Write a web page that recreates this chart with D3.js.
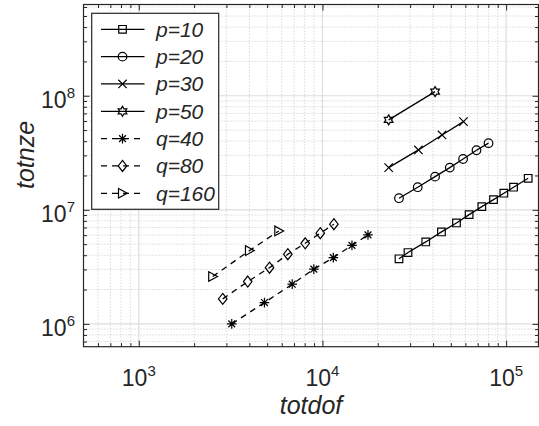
<!DOCTYPE html>
<html>
<head>
<meta charset="utf-8">
<script src="https://cdn.jsdelivr.net/npm/d3@7"></script>
<style>
  body { margin: 0; background: #fff; }
  text { font-family: "Liberation Sans", Arial, Helvetica, sans-serif; fill: #262626; }
</style>
</head>
<body>
<script>
const width = 539;
const height = 426;

// values
const p10x = [26100, 29220, 36490, 44440, 53650, 62850, 73720, 85360, 97160, 109700, 131800];
const p10y = [3.72e6, 4.22e6, 5.23e6, 6.40e6, 7.67e6, 9.08e6, 1.067e7, 1.229e7, 1.398e7, 1.578e7, 1.89e7];
const p20x = [26100, 33000, 41020, 49330, 58280, 68950, 80170];
const p20y = [1.264e7, 1.578e7, 1.954e7, 2.344e7, 2.79e7, 3.33e7, 3.84e7];
const p30x = [22930, 33300, 44770, 58570];
const p30y = [2.344e7, 3.35e7, 4.53e7, 5.93e7];
const p50x = [22930, 41020];
const p50y = [6.14e7, 1.087e8];
const q40x = [3207, 4831, 6844, 8975, 11460, 14470, 17690];
const q40y = [1.0e6, 1.537e6, 2.23e6, 3.02e6, 3.81e6, 4.88e6, 6.03e6];
const q80x = [2864, 3918, 5148, 6477, 8054, 9727, 11540];
const q80y = [1.656e6, 2.35e6, 3.11e6, 4.08e6, 5.09e6, 6.24e6, 7.48e6];
const q160x = [2526, 4004, 5785];
const q160y = [2.60e6, 4.39e6, 6.53e6];

const seriesNames = ["p=10", "p=20", "p=30", "p=50", "q=40", "q=80", "q=160"];
const xTicks = [1e3, 1e4, 1e5];
const yTicks = [1e6, 1e7, 1e8];

const series = [
  { name: seriesNames[0], xs: p10x, ys: p10y, marker: "square", dashed: false },
  { name: seriesNames[1], xs: p20x, ys: p20y, marker: "circle", dashed: false },
  { name: seriesNames[2], xs: p30x, ys: p30y, marker: "x", dashed: false },
  { name: seriesNames[3], xs: p50x, ys: p50y, marker: "hexagram", dashed: false },
  { name: seriesNames[4], xs: q40x, ys: q40y, marker: "asterisk", dashed: true },
  { name: seriesNames[5], xs: q80x, ys: q80y, marker: "diamond", dashed: true },
  { name: seriesNames[6], xs: q160x, ys: q160y, marker: "triangle", dashed: true }
];

const margin = { left: 83.5, top: 4.5, right: 0.5, bottom: 79.3 };
const x = d3.scaleLog().domain([500, 1.5e5]).range([margin.left, width - margin.right]);
const y = d3.scaleLog().domain([Math.pow(10, 5.8), Math.pow(10, 8.8)]).range([height - margin.bottom, margin.top]);

const minorOf = (scale) => {
  const [a, b] = scale.domain();
  const out = [];
  for (let e = Math.floor(Math.log10(a)); e <= Math.ceil(Math.log10(b)); e++) {
    for (let k = 2; k <= 9; k++) {
      const v = k * Math.pow(10, e);
      if (v > a && v < b) out.push(v);
    }
  }
  return out;
};
const xMinor = minorOf(x);
const yMinor = minorOf(y);

const svg = d3.select("body").append("svg")
  .attr("width", width)
  .attr("height", height);

const x0 = x.range()[0], x1 = x.range()[1];
const y0 = y.range()[0], y1 = y.range()[1];

// grid
const grid = svg.append("g");
grid.selectAll(".xm").data(xMinor).join("line")
  .attr("x1", d => x(d)).attr("x2", d => x(d)).attr("y1", y0).attr("y2", y1)
  .attr("stroke", "#c8c8c8").attr("stroke-dasharray", "1,2");
grid.selectAll(".ym").data(yMinor).join("line")
  .attr("x1", x0).attr("x2", x1).attr("y1", d => y(d)).attr("y2", d => y(d))
  .attr("stroke", "#c8c8c8").attr("stroke-dasharray", "1,2");
grid.selectAll(".xM").data(xTicks).join("line")
  .attr("x1", d => x(d)).attr("x2", d => x(d)).attr("y1", y0).attr("y2", y1)
  .attr("stroke", "#dedede").attr("stroke-width", 1.2);
grid.selectAll(".yM").data(yTicks).join("line")
  .attr("x1", x0).attr("x2", x1).attr("y1", d => y(d)).attr("y2", d => y(d))
  .attr("stroke", "#dedede").attr("stroke-width", 1.2);

// markers
const markerPath = (kind) => {
  switch (kind) {
    case "square": return "M-3.8,-3.8H3.8V3.8H-3.8Z";
    case "x": return "M-4.2,-4.2L4.2,4.2M-4.2,4.2L4.2,-4.2";
    case "asterisk": return "M-4.8,0H4.8M0,-4.8V4.8M-3.4,-3.4L3.4,3.4M-3.4,3.4L3.4,-3.4";
    case "diamond": return "M0,-5.5L4.3,0L0,5.5L-4.3,0Z";
    case "triangle": return "M-4,-4.8L4.8,0L-4,4.8Z";
    case "hexagram": {
      const pts = [];
      for (let i = 0; i < 12; i++) {
        const r = i % 2 === 0 ? 5 : 5 / Math.sqrt(3);
        const a = -Math.PI / 2 + i * Math.PI / 6;
        pts.push([r * Math.cos(a), r * Math.sin(a)]);
      }
      return "M" + pts.map(p => p.join(",")).join("L") + "Z";
    }
  }
  return "";
};
const drawMarker = (g, kind, cx, cy) => {
  if (kind === "circle") {
    g.append("circle").attr("cx", cx).attr("cy", cy).attr("r", 4.3)
      .attr("fill", "none").attr("stroke", "#000").attr("stroke-width", 1.2);
  } else {
    g.append("path").attr("d", markerPath(kind))
      .attr("transform", `translate(${cx},${cy})`)
      .attr("fill", "none").attr("stroke", "#000").attr("stroke-width", 1.2);
  }
};

const line = d3.line().x(d => x(d[0])).y(d => y(d[1]));
const plot = svg.append("g");
series.forEach(s => {
  const pts = s.xs.map((v, i) => [v, s.ys[i]]);
  plot.append("path").datum(pts).attr("d", line)
    .attr("fill", "none").attr("stroke", "#000").attr("stroke-width", 1.3)
    .attr("stroke-dasharray", s.dashed ? "6,5" : null);
  pts.forEach(p => drawMarker(plot, s.marker, x(p[0]), y(p[1])));
});

// axes (ticks inward on all sides)
const axisColor = "#262626";
const ax = svg.append("g");
const addAxis = (axis, tx, ty, vals, size) => {
  const g = ax.append("g").attr("transform", `translate(${tx},${ty})`)
    .call(axis.tickValues(vals).tickSize(size).tickSizeOuter(0).tickFormat(""));
  g.select(".domain").remove();
  g.selectAll("line").attr("stroke", axisColor);
  return g;
};
addAxis(d3.axisBottom(x), 0, y0, xMinor, -3.5);
addAxis(d3.axisBottom(x), 0, y0, xTicks, -6);
addAxis(d3.axisTop(x), 0, y1, xMinor, -3.5);
addAxis(d3.axisTop(x), 0, y1, xTicks, -6);
addAxis(d3.axisLeft(y), x0, 0, yMinor, -3.5);
addAxis(d3.axisLeft(y), x0, 0, yTicks, -6);
addAxis(d3.axisRight(y), x1, 0, yMinor, -3.5);
addAxis(d3.axisRight(y), x1, 0, yTicks, -6);
ax.append("rect").attr("x", x0).attr("y", y1).attr("width", x1 - x0).attr("height", y0 - y1)
  .attr("fill", "none").attr("stroke", axisColor).attr("stroke-width", 1.2);

// tick labels
const sup = (t, e) => {
  t.append("tspan").text("10");
  t.append("tspan").attr("font-size", 15).attr("dy", -10).text(e);
};
xTicks.forEach(v => {
  const t = svg.append("text").attr("x", x(v)).attr("y", 386)
    .attr("text-anchor", "middle").attr("font-size", 23);
  sup(t, Math.round(Math.log10(v)));
});
yTicks.forEach(v => {
  const t = svg.append("text").attr("x", 75).attr("y", y(v) + 12.5)
    .attr("text-anchor", "end").attr("font-size", 23);
  sup(t, Math.round(Math.log10(v)));
});

// axis labels
svg.append("text").attr("x", (x0 + x1) / 2).attr("y", 414)
  .attr("text-anchor", "middle").attr("font-size", 25).attr("font-style", "italic")
  .text("totdof");
svg.append("text").attr("transform", "translate(34,155) rotate(-90)")
  .attr("text-anchor", "middle").attr("font-size", 25).attr("font-style", "italic")
  .text("totnze");

// legend
const lg = svg.append("g");
lg.append("rect").attr("x", 91.7).attr("y", 13.3).attr("width", 127).attr("height", 196)
  .attr("fill", "#fff").attr("stroke", axisColor).attr("stroke-width", 1.2);
series.forEach((s, i) => {
  const ly = 29.3 + i * 27.33;
  lg.append("line").attr("x1", 101).attr("x2", 144.5).attr("y1", ly).attr("y2", ly)
    .attr("stroke", "#000").attr("stroke-width", 1.3)
    .attr("stroke-dasharray", s.dashed ? "6,5" : null);
  drawMarker(lg, s.marker, 122.5, ly);
  lg.append("text").attr("x", 156).attr("y", ly + 7.5)
    .attr("font-size", 21).attr("font-style", "italic").text(s.name);
});
</script>
</body>
</html>
